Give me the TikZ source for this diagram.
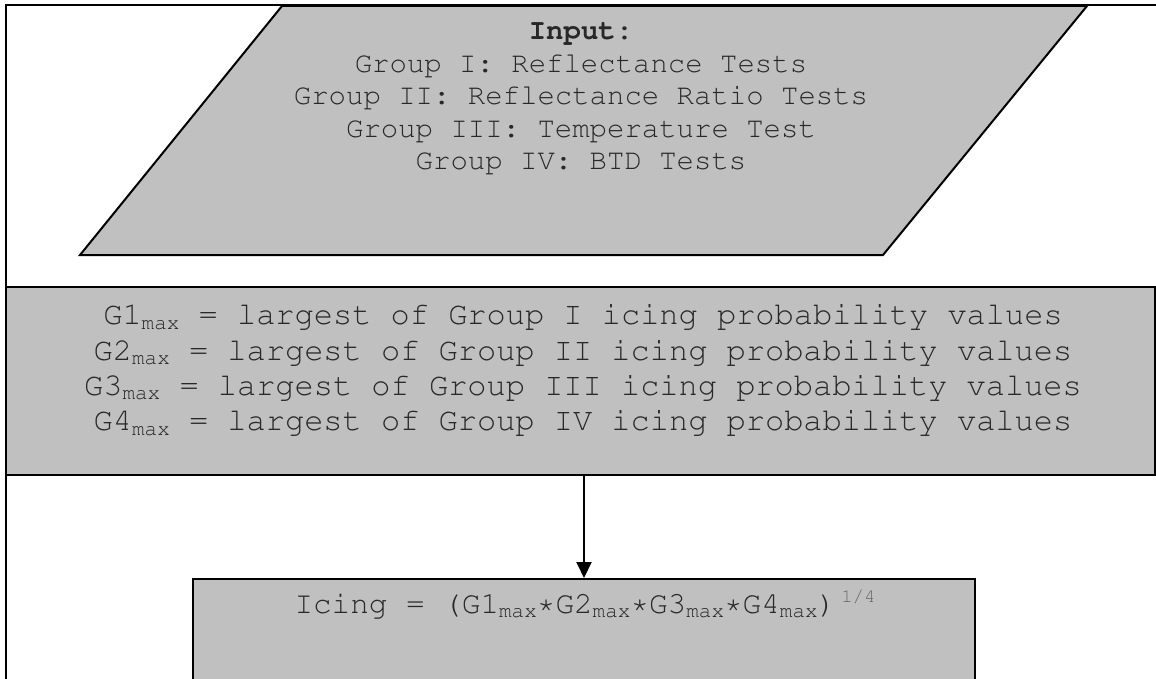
\documentclass[tikz,border=0pt]{standalone}
\usepackage[T1]{fontenc}
\newcommand{\cour}{\fontencoding{T1}\fontfamily{pcr}\selectfont}
\usetikzlibrary{arrows.meta}
\definecolor{boxgray}{RGB}{192,192,192}
\definecolor{txt}{RGB}{40,40,40}
\newcommand{\mxs}{\raisebox{-4.5pt}{\fontsize{21}{21}\selectfont max}}
\begin{document}
\begin{tikzpicture}[x=1pt,y=-1pt,
  frame/.style={draw=black, line width=2pt},
  gbox/.style={draw=black, fill=boxgray, line width=2pt, inner sep=0pt},
  intext/.style={font={\cour\fontsize{29}{32.5}\selectfont}, text=txt, align=center, inner sep=0pt},
  midtext/.style={font={\cour\fontsize{32}{35.2}\selectfont}, text=txt, align=center, inner sep=0pt},
  flow/.style={draw=black, line width=2pt, -{Triangle[length=16pt,width=15pt]}}]
\useasboundingbox (0,0) rectangle (1156,679);
\clip (0,0) rectangle (1156,679);
% outer frame
\draw[frame] (6,720) -- (6,5) -- (1170,5);
% input parallelogram
\draw[gbox] (282,6) -- (1087,6) -- (883,255) -- (80,255) -- cycle;
\node[intext] (input) at (581,99) {{\bfseries Input:}\\Group I: Reflectance Tests\\Group II: Reflectance Ratio Tests\\Group III: Temperature Test\\Group IV: BTD Tests};
% middle box
\node[gbox, minimum width=1149pt, minimum height=188pt] (calc) at (580.5,381) {};
\node[midtext] (calctext) at (583,370) {G1\mxs{} = largest of Group I icing probability values\\G2\mxs{} = largest of Group II icing probability values\\G3\mxs{} = largest of Group III icing probability values\\G4\mxs{} = largest of Group IV icing probability values};
% bottom box
\node[gbox, minimum width=782pt, minimum height=141pt] (icing) at (584,649.5) {};
\node[font={\cour\fontsize{31}{34}\selectfont}, text=txt, inner sep=0pt, anchor=base] (icingtext) at (585,613) {Icing = (G1\mxs{}*G2\mxs{}*G3\mxs{}*G4\mxs{})\hspace{5pt}\raisebox{11pt}{\fontsize{19}{19}\selectfont\color{black!60}1/4}};
% connector
\draw[flow] (calc.south -| icing.north) -- (icing.north);
\end{tikzpicture}
\end{document}
